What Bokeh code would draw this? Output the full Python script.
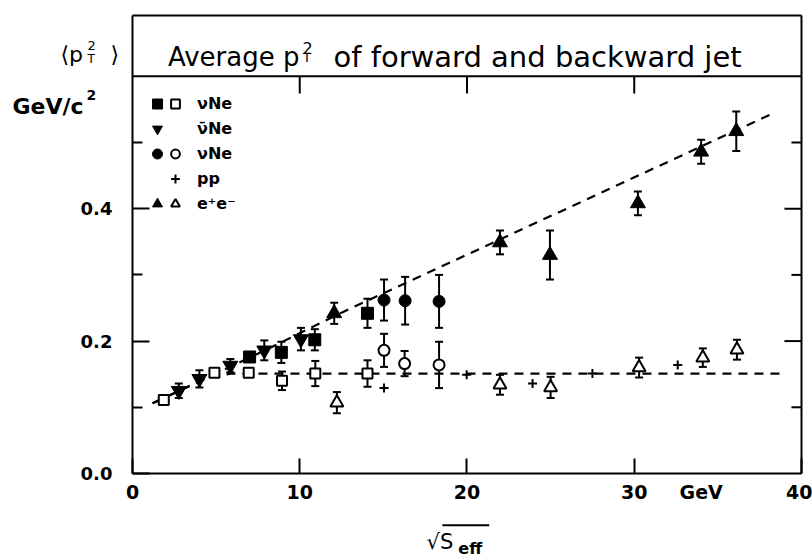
from bokeh.plotting import figure
from bokeh.models import (ColumnDataSource, Whisker, TeeHead, Label, FixedTicker,
                          Legend, LegendItem, PrintfTickFormatter)
from bokeh.embed import file_html
from bokeh.resources import INLINE

FONT = "DejaVu Sans"
NAN = float("nan")

# ---------------- data ----------------
nu_sq_filled_x = [7.0, 8.9, 10.9, 14.05]
nu_sq_filled_y = [0.176, 0.183, 0.202, 0.242]
nu_sq_filled_err = [0.007, 0.016, 0.016, 0.022]

nu_sq_open_x = [1.87, 4.9, 6.95, 8.94, 10.93, 14.05]
nu_sq_open_y = [0.111, 0.152, 0.152, 0.140, 0.151, 0.151]
nu_sq_open_err = [0.0, 0.0, 0.0, 0.014, 0.019, 0.020]

nubar_x = [2.77, 4.0, 5.85, 7.88, 10.07]
nubar_y = [0.125, 0.143, 0.163, 0.186, 0.203]
nubar_err = [0.011, 0.013, 0.010, 0.015, 0.017]

nu_circ_filled_x = [15.04, 16.3, 18.33]
nu_circ_filled_y = [0.262, 0.261, 0.260]
nu_circ_filled_err = [0.031, 0.036, 0.040]

nu_circ_open_x = [15.04, 16.27, 18.33]
nu_circ_open_y = [0.186, 0.166, 0.164]
nu_circ_open_err = [0.025, 0.019, 0.035]

pp_x = [15.04, 19.98, 23.92, 27.5, 32.6]
pp_y = [0.129, 0.149, 0.136, 0.151, 0.164]

ee_filled_x = [12.06, 21.97, 24.96, 30.22, 34.0, 36.1]
ee_filled_y = [0.242, 0.349, 0.330, 0.408, 0.486, 0.517]
ee_filled_err = [0.016, 0.018, 0.037, 0.018, 0.018, 0.030]

ee_open_x = [12.22, 21.97, 25.0, 30.29, 34.1, 36.14]
ee_open_y = [0.107, 0.134, 0.130, 0.160, 0.175, 0.187]
ee_open_err = [0.016, 0.015, 0.016, 0.015, 0.014, 0.015]

# dashed guide curves
upper_x = [1.2, 8.0, 12.5, 38.2]
upper_y = [0.106, 0.187, 0.243, 0.543]
lower_x = [1.2, 4.6, 6.0, 38.8]
lower_y = [0.106, 0.146, 0.151, 0.151]

# axes / frame
x_lo, x_hi = 0, 40
y_lo, y_top = 0.0, 0.692
x_ticks = [0, 10, 20, 30, 40]
inner_x_ticks = [10, 20, 30]
y_ticks = [0.0, 0.2, 0.4]
y_major_inner = [0.2, 0.4]
y_minor = [0.1, 0.3, 0.5]
title_sep = 0.6

legend_labels = ["\u03bdNe", "\u03bd\u0304Ne", "\u03bdNe", "pp", "e\u207ae\u207b"]

# ---------------- figure: frame covers whole canvas, axes fixed at 0 ----------------
p = figure(width=812, height=557, x_range=(-7.892, 40.658), y_range=(-0.1269, 0.7145),
           output_backend="svg", toolbar_location=None,
           min_border_left=0, min_border_right=0, min_border_top=0, min_border_bottom=0)
p.xgrid.visible = False
p.ygrid.visible = False
p.outline_line_color = None
p.background_fill_color = "white"
p.border_fill_color = "white"

xa = p.xaxis[0]
xa.fixed_location = 0
xa.bounds = (x_lo, x_hi)
xa.ticker = FixedTicker(ticks=x_ticks, minor_ticks=[])
xa.major_tick_in = 15
xa.major_tick_out = 0
xa.major_tick_line_width = 2
xa.axis_line_width = 2
xa.major_label_standoff = 12
xa.major_label_text_font = FONT
xa.major_label_text_font_size = "19px"
xa.major_label_text_font_style = "bold"
xa.major_label_text_color = "black"

ya = p.yaxis[0]
ya.fixed_location = 0
ya.bounds = (y_lo, y_top)
ya.ticker = FixedTicker(ticks=y_ticks, minor_ticks=y_minor)
ya.formatter = PrintfTickFormatter(format="%.1f")
ya.major_tick_in = 17
ya.major_tick_out = 0
ya.minor_tick_in = 10
ya.minor_tick_out = 0
ya.major_tick_line_width = 2
ya.minor_tick_line_width = 2
ya.axis_line_width = 2
ya.major_label_standoff = 20
ya.major_label_text_font = FONT
ya.major_label_text_font_size = "18px"
ya.major_label_text_font_style = "bold"
ya.major_label_text_color = "black"

# frame: right edge, top edge, title separator
frame = dict(line_color="black", line_width=2)
p.segment(x0=[x_hi], y0=[y_lo], x1=[x_hi], y1=[y_top], **frame)
p.segment(x0=[x_lo], y0=[y_top], x1=[x_hi], y1=[y_top], **frame)
p.segment(x0=[x_lo], y0=[title_sep], x1=[x_hi], y1=[title_sep], **frame)
# inner ticks on the right edge and under the separator
p.segment(x0=[x_hi] * 2, y0=y_major_inner, x1=[x_hi - 1.02] * 2, y1=y_major_inner, **frame)
p.segment(x0=[x_hi] * 3, y0=y_minor, x1=[x_hi - 0.6] * 3, y1=y_minor, **frame)
p.segment(x0=inner_x_ticks, y0=[title_sep] * 3, x1=inner_x_ticks,
          y1=[title_sep - 0.026] * 3, **frame)

# guide lines
p.line(upper_x, upper_y, line_color="black", line_width=2.2, line_dash="9 7")
p.line(lower_x, lower_y, line_color="black", line_width=2.2, line_dash="9 7")


def add_err(xs, ys, es):
    xx, lo, hi = [], [], []
    for x, y, e in zip(xs, ys, es):
        if e > 0:
            xx.append(x)
            lo.append(y - e)
            hi.append(y + e)
    src = ColumnDataSource(dict(x=xx, lo=lo, hi=hi))
    w = Whisker(source=src, base="x", lower="lo", upper="hi", line_color="black", line_width=2,
                upper_head=TeeHead(size=8, line_width=2, line_color="black"),
                lower_head=TeeHead(size=8, line_width=2, line_color="black"),
                level="underlay")
    p.add_layout(w)


add_err(nu_sq_filled_x, nu_sq_filled_y, nu_sq_filled_err)
add_err(nu_sq_open_x, nu_sq_open_y, nu_sq_open_err)
add_err(nubar_x, nubar_y, nubar_err)
add_err(nu_circ_filled_x, nu_circ_filled_y, nu_circ_filled_err)
add_err(nu_circ_open_x, nu_circ_open_y, nu_circ_open_err)
add_err(ee_filled_x, ee_filled_y, ee_filled_err)
add_err(ee_open_x, ee_open_y, ee_open_err)

filled = dict(fill_color="black", line_color="black", line_width=1)
opened = dict(fill_color="white", line_color="black", line_width=2)

p.scatter(nu_sq_filled_x, nu_sq_filled_y, marker="square", size=12, **filled)
p.scatter(nu_sq_open_x, nu_sq_open_y, marker="square", size=10, **opened)
p.scatter(nubar_x, nubar_y, marker="inverted_triangle", size=15, **filled)
p.scatter(nu_circ_filled_x, nu_circ_filled_y, marker="circle", size=12, **filled)
p.scatter(nu_circ_open_x, nu_circ_open_y, marker="circle", size=11, **opened)
p.scatter(pp_x, pp_y, marker="cross", size=9, line_color="black", line_width=2)
p.scatter(ee_filled_x, ee_filled_y, marker="triangle", size=15, **filled)
p.scatter(ee_open_x, ee_open_y, marker="triangle", size=13, **opened)

# ---------------- legend (two marker columns) ----------------
def key(marker, size, **kw):
    return p.scatter([NAN], [NAN], marker=marker, size=size, **kw)

lg_sq_f = key("square", 12, **filled)
lg_tri_d = key("inverted_triangle", 15, **filled)
lg_c_f = key("circle", 12, **filled)
lg_none = key("square", 10, fill_alpha=0, line_alpha=0)
lg_tri_f = key("triangle", 15, **filled)
lg_sq_o = key("square", 10, **opened)
lg_c_o = key("circle", 10, **opened)
lg_pp = key("cross", 9, line_color="black", line_width=2)
lg_tri_o = key("triangle", 13, **opened)

common = dict(orientation="vertical", glyph_height=25, label_height=25,
              spacing=0, padding=0, margin=0, border_line_alpha=0, background_fill_alpha=0,
              label_text_font=FONT, label_text_font_size="16px", label_text_font_style="bold",
              label_text_color="black")

leg1 = Legend(items=[LegendItem(label=" ", renderers=[r]) for r in
                     [lg_sq_f, lg_tri_d, lg_c_f, lg_none, lg_tri_f]],
              location=(142, 341), glyph_width=30, label_standoff=0, label_width=1, **common)
leg2 = Legend(items=[LegendItem(label=t, renderers=[r]) for t, r in
                     zip(legend_labels, [lg_sq_o, lg_none, lg_c_o, lg_pp, lg_tri_o])],
              location=(164, 341), glyph_width=22, label_standoff=11, **common)
p.add_layout(leg1)
p.add_layout(leg2)

# ---------------- texts ----------------
def lab(x, y, text, size, align="left", base="alphabetic", style="normal"):
    p.add_layout(Label(x=x, y=y, text=text, text_align=align, text_baseline=base,
                       text_font=FONT, text_font_size=size, text_font_style=style,
                       text_color="black"))

# title inside the box
lab(9.985, 0.6289, "Average p", "26px", align="right")
lab(10.16, 0.6435, "2", "16px")
lab(10.2, 0.6284, "T", "13px")
lab(12.02, 0.6289, "of forward and backward jet", "29px")

# quantity and unit, left of the box
lab(-4.305, 0.6329, "\u27e8p", "22px")
lab(-2.69, 0.6465, "2", "13px")
lab(-2.69, 0.6261, "T", "12px")
lab(-1.315, 0.6329, "\u27e9", "22px")
lab(-7.175, 0.5544, "GeV/c", "22px", style="bold")
lab(-2.75, 0.5710, "2", "14px", style="bold")

# x unit and axis label  (sqrt(s_eff))
lab(34.0, -0.0108, "GeV", "19px", align="center", base="top", style="bold")
sq_x, sq_y = 17.58, -0.1042
lab(sq_x, sq_y, "\u221aS", "21px")
lab(sq_x + 1.9, sq_y - 0.0091, "eff", "16px", style="bold")
p.segment(x0=[sq_x + 0.95], y0=[sq_y + 0.0262], x1=[sq_x + 3.75], y1=[sq_y + 0.0262],
          line_color="black", line_width=2)

open("out.html", "w").write(file_html(p, INLINE))
